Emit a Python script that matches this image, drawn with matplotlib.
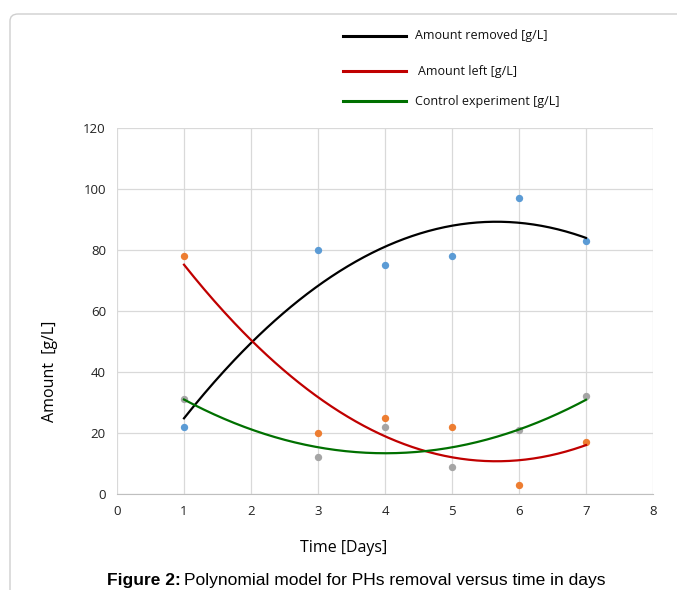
import matplotlib
matplotlib.use("Agg")
import matplotlib.pyplot as plt
import numpy as np
from matplotlib.lines import Line2D
from matplotlib.patches import FancyBboxPatch

plt.rcParams.update({"font.family": ["Open Sans", "DejaVu Sans"]})

# data
days = [1, 3, 4, 5, 6, 7]
removed = [22, 80, 75, 78, 97, 83]
left = [78, 20, 25, 22, 3, 17]
control = [31, 12, 22, 9, 21, 32]

series_names = ["Amount removed [g/L]", "Amount left [g/L]", "Control experiment [g/L]"]
point_colors = ["#5b9bd5", "#ed7d31", "#a5a5a5"]
trend_colors = ["#000000", "#c00000", "#007000"]

W, H = 677, 590
fig = plt.figure(figsize=(W / 100, H / 100), dpi=100)

# rounded frame around the chart
frame = FancyBboxPatch((10 / W, -0.1), 1.0, 1 - 14 / H + 0.1,
                       boxstyle="round,pad=0,rounding_size=0.012",
                       transform=fig.transFigure, fc="none", ec="#cfcfcf", lw=1.0)
fig.add_artist(frame)

ax = fig.add_axes([117 / W, 1 - 494 / H, (653 - 117) / W, (494 - 128) / H])
ax.set_xlim(0, 8)
ax.set_ylim(0, 120)
ax.set_xticks(range(0, 9))
ax.set_yticks(range(0, 121, 20))
ax.grid(True, color="#d9d9d9", lw=0.9)
ax.set_axisbelow(True)
for s in ax.spines.values():
    s.set_visible(False)
ax.spines["bottom"].set_visible(True)
ax.spines["bottom"].set_color("#bfbfbf")
ax.tick_params(length=0, labelsize=9.5, colors="#222222", pad=8)

xs = np.linspace(1, 7, 200)
for ys, pc, tc in zip([removed, left, control], point_colors, trend_colors):
    ax.scatter(days, ys, s=28, color=pc, zorder=3, linewidths=0)
    coef = np.polyfit(days, ys, 2)
    ax.plot(xs, np.polyval(coef, xs), color=tc, lw=1.6, zorder=4)

# axis titles sit off-centre in the reference, so place them by hand
fig.text(344 / W, 1 - 548 / H, "Time [Days]", fontsize=11.5, ha="center", va="center")
fig.text(50 / W, 1 - 371 / H, "Amount  [g/L]", fontsize=11.5, ha="center", va="center",
         rotation=90)

# legend drawn at the top, one entry per row
leg_y = [36, 71, 101]
leg_tx = [415, 418, 415]
for name, tc, y, tx in zip(series_names, trend_colors, leg_y, leg_tx):
    fig.add_artist(Line2D([343 / W, 406 / W], [1 - y / H] * 2, color=tc, lw=2.2,
                          transform=fig.transFigure))
    fig.text(tx / W, 1 - y / H, name, fontsize=9, va="center", ha="left", color="#111111")

# caption at the bottom edge
cap_y = 1.5 / H
fig.text(107 / W, cap_y, "Figure 2:", fontsize=12.5, weight="bold", va="bottom", ha="left",
         family="Liberation Sans")
fig.text(184 / W, cap_y, "Polynomial model for PHs removal versus time in days",
         fontsize=12.5, va="bottom", ha="left", family="Liberation Sans")

fig.savefig("out.png", dpi=100)
